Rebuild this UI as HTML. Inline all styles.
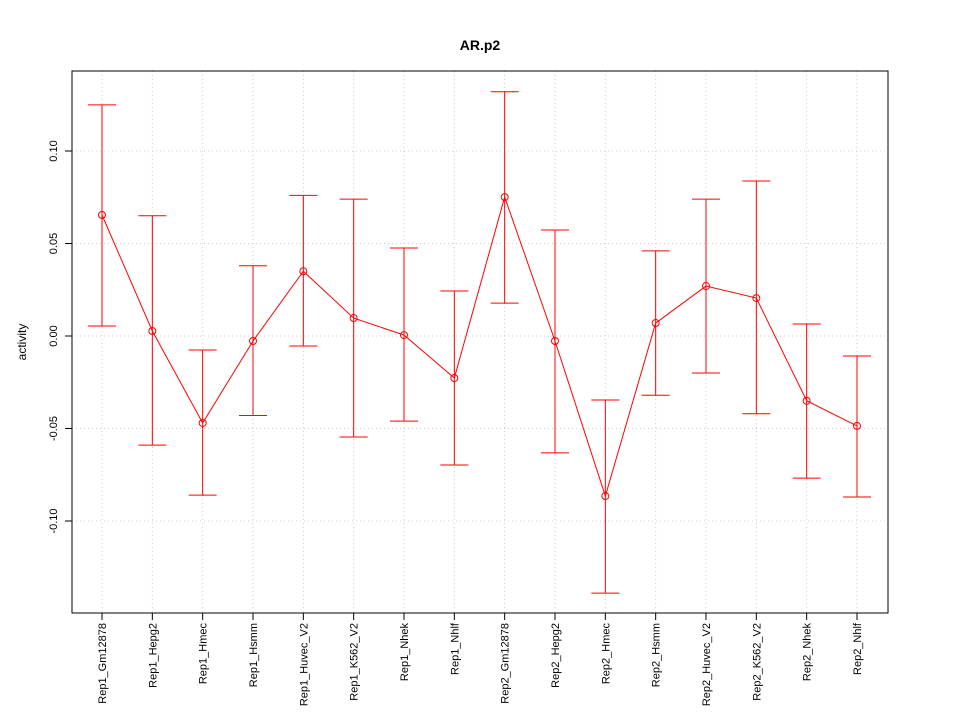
<!DOCTYPE html>
<html><head><meta charset="utf-8"><style>
body{margin:0;background:#fff;}
svg text{font-family:"Liberation Sans",sans-serif;}
</style></head><body>
<svg id="chart" width="960" height="720" xmlns="http://www.w3.org/2000/svg">
<rect width="960" height="720" fill="#fff"/>
<text x="480" y="50" text-anchor="middle" font-size="14" font-weight="bold">AR.p2</text>
<text transform="translate(26,342) rotate(-90)" text-anchor="middle" font-size="12">activity</text>
<g id="grid"></g><g id="axes"></g><g id="marks"></g>
<rect x="72" y="71" width="816" height="542" fill="none" stroke="#000"/>
</svg>
<script>
const categories=["Rep1_Gm12878","Rep1_Hepg2","Rep1_Hmec","Rep1_Hsmm","Rep1_Huvec_V2","Rep1_K562_V2","Rep1_Nhek","Rep1_Nhlf","Rep2_Gm12878","Rep2_Hepg2","Rep2_Hmec","Rep2_Hsmm","Rep2_Huvec_V2","Rep2_K562_V2","Rep2_Nhek","Rep2_Nhlf"];
const values=[0.0654,0.0027,-0.047,-0.0027,0.035,0.0097,0.0005,-0.0227,0.0751,-0.0027,-0.0865,0.007,0.027,0.0205,-0.035,-0.0486];
const upper=[0.1249,0.065,-0.0076,0.038,0.076,0.074,0.0476,0.0243,0.132,0.0573,-0.0346,0.046,0.074,0.0838,0.0065,-0.0108];
const lower=[0.0054,-0.059,-0.086,-0.043,-0.0054,-0.0546,-0.046,-0.0697,0.0178,-0.0632,-0.139,-0.032,-0.020,-0.042,-0.0768,-0.087];
const yTicks=[-0.10,-0.05,0.00,0.05,0.10];
const yTickLabels=["-0.10","-0.05","0.00","0.05","0.10"];
const NS="http://www.w3.org/2000/svg";
function xs(i){return 102+i*(857-102)/(categories.length-1);}
function ys(v){return 336-v*1850;}
function mk(p,t,a){const e=document.createElementNS(NS,t);for(const k in a)e.setAttribute(k,a[k]);p.appendChild(e);return e;}
const grid=document.getElementById('grid'),axes=document.getElementById('axes'),marks=document.getElementById('marks');
categories.forEach((c,i)=>{
 const g=mk(grid,'line',{x1:xs(i),x2:xs(i),y1:71,y2:613,stroke:'#ccc','stroke-dasharray':'1,3'});
 
 
 const t=mk(axes,'line',{x1:xs(i),x2:xs(i),y1:613,y2:620,stroke:'#000'});
 
 
 const l=mk(axes,'text',{transform:`translate(${xs(i)+4},623) rotate(-90)`,'text-anchor':'end','font-size':'11'});
 l.textContent=c;
 
 
});
yTicks.forEach((v,i)=>{
 const g=mk(grid,'line',{x1:72,x2:888,y1:ys(v),y2:ys(v),stroke:'#ccc','stroke-dasharray':'1,3'});
 
 
 const t=mk(axes,'line',{x1:65,x2:72,y1:ys(v),y2:ys(v),stroke:'#000'});
 
 
 const l=mk(axes,'text',{transform:`translate(57,${ys(v)}) rotate(-90)`,'text-anchor':'middle','font-size':'11'});
 l.textContent=yTickLabels[i];
 
 
});
const yl=mk(axes,'line',{x1:72,x2:72,y1:ys(yTicks[0]),y2:ys(yTicks[yTicks.length-1]),stroke:'#000'});


const xl=mk(axes,'line',{x1:xs(0),x2:xs(categories.length-1),y1:613,y2:613,stroke:'#000'});


values.forEach((v,i)=>{
 const e=mk(marks,'path',{d:`M${xs(i)},${ys(upper[i])}V${ys(lower[i])}M${xs(i)-14},${ys(upper[i])}H${xs(i)+14}M${xs(i)-14},${ys(lower[i])}H${xs(i)+14}`,stroke:'#f00',fill:'none'});
 
 
});
const line=mk(marks,'polyline',{points:values.map((v,i)=>xs(i)+','+ys(v)).join(' '),fill:'none',stroke:'#f00'});


values.forEach((v,i)=>{
 const c=mk(marks,'circle',{cx:xs(i),cy:ys(v),r:3.5,fill:'none',stroke:'#f00'});
 
 
});
</script>
</body></html>
